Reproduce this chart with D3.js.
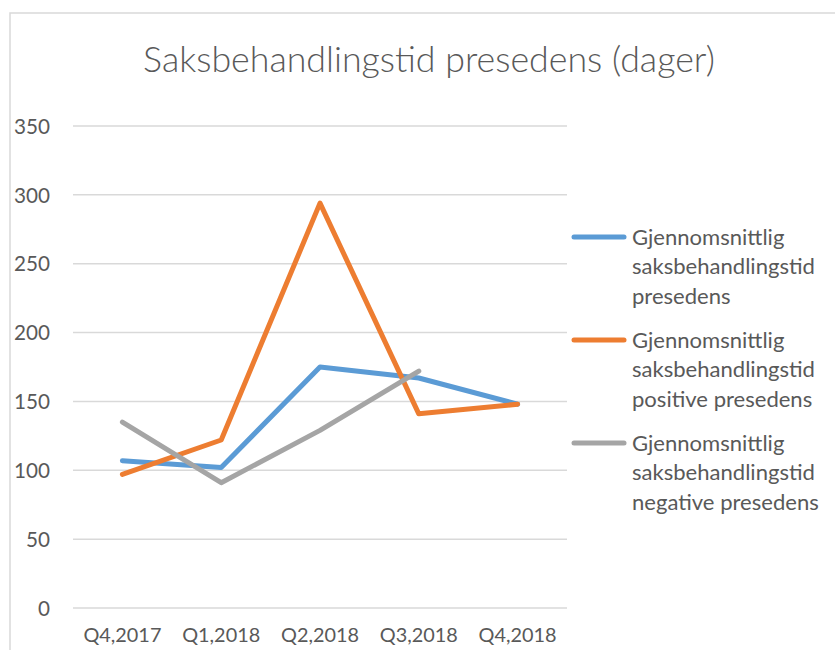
<!DOCTYPE html>
<html><head><meta charset="utf-8">
<script src="https://cdn.jsdelivr.net/npm/d3@7"></script>
<style>body{margin:0;background:#fff}svg{display:block}text{font-family:Lato,"Open Sans",sans-serif;fill:#595959}</style>
</head><body>
<svg id="c" width="835" height="650"></svg>
<script>
const categories = ["Q4,2017","Q1,2018","Q2,2018","Q3,2018","Q4,2018"];
const seriesNames = [
  ["Gjennomsnittlig","saksbehandlingstid","presedens"],
  ["Gjennomsnittlig","saksbehandlingstid","positive presedens"],
  ["Gjennomsnittlig","saksbehandlingstid","negative presedens"]
];
const avgAll = [107, 102, 175, 167, 148];
const avgPositive = [97, 122, 294, 141, 148];
const avgNegative = [135, 91, 129, 172, null];
const yTicks = [0,50,100,150,200,250,300,350];
const title = "Saksbehandlingstid presedens (dager)";
const colors = ["#5B9BD5","#ED7D31","#A5A5A5"];

const svg = d3.select("#c");
function fit(sel, target){
  const n = sel.node(); const fs = parseFloat(sel.attr("font-size"));
  const w = n.getComputedTextLength(); sel.attr("font-size", (fs*target/w).toFixed(2));
}
// frame
svg.append("rect").attr("x",10).attr("y",13).attr("width",900).attr("height",700)
  .attr("fill","none").attr("stroke","#D9D9D9").attr("stroke-width",1.5);

const x = d3.scaleBand().domain(categories).range([73,567]);
const y = d3.scaleLinear().domain([0,350]).range([608,126]);

// gridlines
svg.append("g").selectAll("line").data(yTicks).join("line")
  .attr("x1",73).attr("x2",567).attr("y1",d=>y(d)).attr("y2",d=>y(d))
  .attr("stroke","#D9D9D9").attr("stroke-width",1.5);

// y axis labels
const yAxis = d3.axisLeft(y).tickValues(yTicks).tickSize(0).tickPadding(0);
const gy = svg.append("g").attr("transform","translate(50,0)").call(yAxis);
gy.select(".domain").remove();
gy.selectAll("text").attr("font-size",20).attr("fill","#595959").attr("font-family","Lato").attr("dy","0.35em");
fit(gy.selectAll("text").filter(d=>d===350), 36);
const yfs = gy.selectAll("text").filter(d=>d===350).attr("font-size");
gy.selectAll("text").attr("font-size", yfs);

// x axis labels
const xAxis = d3.axisBottom(x).tickSize(0).tickPadding(0);
const gx = svg.append("g").attr("transform","translate(0,628)").call(xAxis);
gx.select(".domain").remove();
gx.selectAll("text").attr("font-size",20).attr("fill","#595959").attr("font-family","Lato").attr("dy","0.71em");
fit(gx.selectAll("text").filter((d,i)=>i===0), 78);
const xfs = gx.selectAll("text").filter((d,i)=>i===0).attr("font-size");
gx.selectAll("text").attr("font-size", xfs);

// lines
const line = d3.line().defined(d=>d!=null)
  .x((d,i)=>x(categories[i])+x.bandwidth()/2).y(d=>y(d));
[avgAll, avgPositive, avgNegative].forEach((s,i)=>{
  svg.append("path").attr("d", line(s)).attr("fill","none").attr("stroke",colors[i])
    .attr("stroke-width",5).attr("stroke-linejoin","round").attr("stroke-linecap","round");
});

// title
const t = svg.append("text").attr("x",429).attr("y",72).attr("text-anchor","middle")
  .attr("font-size",32).attr("font-weight",300).text(title);
fit(t, 572);

// legend
const legTop = [237, 340, 443];
const lg = svg.append("g");
seriesNames.forEach((lines,i)=>{
  lg.append("line").attr("x1",574).attr("x2",624).attr("y1",legTop[i]).attr("y2",legTop[i])
    .attr("stroke",colors[i]).attr("stroke-width",5).attr("stroke-linecap","round");
  lines.forEach((l,j)=>{
    lg.append("text").attr("class","lt").attr("x",632).attr("y",legTop[i]+j*29.7).attr("dy","0.35em")
      .attr("font-size",20).text(l);
  });
});
const ref = lg.selectAll("text.lt").filter((d,i)=>i===1);
fit(ref, 183);
const lfs = ref.attr("font-size");
lg.selectAll("text.lt").attr("font-size", lfs);
</script>
</body></html>
